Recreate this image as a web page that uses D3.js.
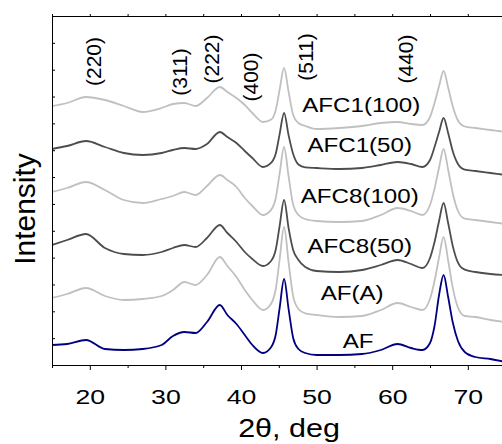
<!DOCTYPE html>
<html>
<head>
<meta charset="utf-8">
<script src="https://cdn.jsdelivr.net/npm/d3@7"></script>
<style>
  html, body { margin: 0; padding: 0; background: #fff; }
  svg { display: block; }
  text { font-family: "Liberation Sans", Arial, sans-serif; fill: #000; }
</style>
</head>
<body>
<svg id="chart" width="502" height="444"></svg>
<script>
// 2θ sampling positions (deg)
const twoTheta = [15, 17, 19.5, 22, 24.5, 27, 29.5, 31, 32.5, 34,
  35.5, 37.2, 38.2, 39.4, 40.5, 41.5, 42.9, 44, 44.6, 45.1,
  45.7, 46.3, 46.9, 47.6, 48.5, 50, 53, 56, 58.5, 60.7,
  62.5, 64, 65, 65.6, 66.2, 66.8, 67.4, 68, 68.7, 69.6,
  71, 73, 75];

// Stacked intensities (a.u., offsets included)
const afc1_100 = [259, 262, 268, 265, 259, 253, 257, 261, 262, 259,
  267, 278, 273, 267, 260, 252, 243, 245.5, 255, 275,
  297, 273, 250, 242, 239, 236, 237, 239, 242, 243,
  241, 240, 248, 262, 279, 294, 277.5, 259, 244.5, 238.5,
  237, 235, 233];
const afc1_50 = [216, 219, 224, 218, 212, 210, 212, 215, 217, 216,
  221, 233, 228, 222, 214, 207, 198, 202.3, 211.5, 230.4,
  252, 229.6, 211, 200.5, 197.7, 197, 196, 197, 200, 203,
  201, 198, 205, 218, 233, 247, 232, 214, 201, 195.3,
  194, 192, 190];
const afc8_100 = [173, 177, 183, 175, 165, 162, 166, 169, 173, 170,
  179, 190, 185, 178, 167, 159, 150, 155.4, 167, 191,
  218, 188.4, 160.3, 150, 146, 144, 143, 144, 150, 157,
  154, 150, 160, 176.4, 197.5, 216, 195.3, 172, 154, 146.4,
  145, 143, 141];
const afc8_50 = [120, 125, 131, 117, 111, 110, 113, 117, 120, 118,
  127, 140, 132, 123, 113, 106, 99, 104.3, 115.5, 138.6,
  165, 136.6, 115, 105, 98, 94, 93, 95, 100, 105,
  101, 97, 107, 123, 144, 162, 142, 119.4, 102.4, 95.3,
  93, 91, 90];
const afA = [67, 71, 77, 69, 65, 66, 69, 75, 83, 80,
  90, 108, 99, 88, 75, 65, 55, 61.6, 76, 105,
  138, 102.4, 68.6, 56, 51.7, 50, 48, 49, 55, 62,
  58, 55, 66, 84, 107.6, 128, 104.5, 77.6, 57.4, 49,
  48, 45, 43];
const af = [20, 21, 25, 16, 15, 16, 20, 29, 33, 32,
  43, 60, 50, 41, 30, 20, 12, 18, 30.5, 56.4,
  86, 55.6, 27, 16, 12, 10, 10, 11, 15, 21,
  17, 15, 22, 39, 70, 90, 68, 43, 24, 13,
  8, 6, 3];

const seriesNames = ["AFC1(100)", "AFC1(50)", "AFC8(100)", "AFC8(50)", "AF(A)", "AF"];
const seriesValues = [afc1_100, afc1_50, afc8_100, afc8_50, afA, af];
const seriesColors = ["#c0c0c0", "#4d4d4d", "#c0c0c0", "#4d4d4d", "#c0c0c0", "#000080"];
// where each sample name sits (2θ, intensity at text baseline)
const nameAngle = [55.9, 55.7, 55.7, 55.7, 54.7, 55.5];
const nameLevel = [253, 213, 162, 112, 65, 17];

// reflection labels
const hklLabels = ["(220)", "(311)", "(222)", "(400)", "(511)", "(440)"];
const hklAngle = [20.5, 31.9, 36.1, 41.2, 48.5, 61.8];
const hklLevel = [303.5, 293, 306, 288, 308, 306];

const xMajorTicks = [20, 30, 40, 50, 60, 70];
const xMinorTicks = [15, 25, 35, 45, 55, 65, 75];
const yTickCount = 13;

const svg = d3.select("#chart");
const plotLeft = 52, plotTop = 16, plotBottom = 365, plotRight = 543.4;

const x = d3.scaleLinear().domain([15, 80]).range([plotLeft, plotRight]);
const y = d3.scaleLinear().domain([0, 349]).range([plotBottom, plotTop]);

svg.append("defs").append("clipPath").attr("id", "plotClip")
  .append("rect").attr("x", plotLeft).attr("y", plotTop)
  .attr("width", plotRight - plotLeft).attr("height", plotBottom - plotTop);

// curves
const line = d3.line()
  .x((d, i) => x(twoTheta[i]))
  .y(d => y(d))
  .curve(d3.curveMonotoneX);

const plot = svg.append("g").attr("clip-path", "url(#plotClip)");
seriesValues.forEach((vals, k) => {
  plot.append("path")
    .datum(vals)
    .attr("fill", "none")
    .attr("stroke", seriesColors[k])
    .attr("stroke-width", 1.8)
    .attr("stroke-linejoin", "round")
    .attr("d", line);
});

// axes
const axisStyle = g => {
  g.select(".domain").attr("stroke", "#000").attr("stroke-width", 1);
  g.selectAll(".tick line").attr("stroke", "#000").attr("stroke-width", 1);
};

const bottomAxis = svg.append("g").attr("transform", `translate(0,${plotBottom})`)
  .call(d3.axisBottom(x).tickValues(xMajorTicks).tickSize(5).tickSizeOuter(0))
  .call(axisStyle);
bottomAxis.selectAll(".tick text")
  .attr("dy", 0)
  .attr("y", 39)
  .attr("transform", "scale(1.3,1)")
  .attr("fill", "#000")
  .style("font-size", "20.5px")
  .style("font-family", "'Liberation Sans', Arial, sans-serif");

svg.append("g").attr("transform", `translate(0,${plotBottom})`)
  .call(d3.axisBottom(x).tickValues(xMinorTicks).tickSize(3).tickSizeOuter(0).tickFormat(""))
  .call(axisStyle);

svg.append("g").attr("transform", `translate(0,${plotTop})`)
  .call(d3.axisTop(x).tickValues(xMajorTicks.concat(xMinorTicks)).tickSize(2).tickSizeOuter(0).tickFormat(""))
  .call(axisStyle);

const yTicks = d3.range(0, yTickCount + 1).map(i => i * 349 / yTickCount);
svg.append("g").attr("transform", `translate(${plotLeft},0)`)
  .call(d3.axisRight(y).tickValues(yTicks).tickSize(3).tickSizeOuter(0).tickFormat(""))
  .call(axisStyle);

// sample names
seriesNames.forEach((name, k) => {
  svg.append("text")
    .attr("transform", `translate(${x(nameAngle[k])},${y(nameLevel[k])}) scale(1.15,1)`)
    .attr("text-anchor", "middle")
    .style("font-size", "21px")
    .text(name);
});

// reflection indices
hklLabels.forEach((lab, k) => {
  svg.append("text")
    .attr("transform", `translate(${x(hklAngle[k]) + 7.5},${y(hklLevel[k])}) rotate(-90)`)
    .attr("text-anchor", "middle")
    .style("font-size", "21px")
    .text(lab);
});

// axis titles
svg.append("text")
  .attr("transform", `translate(289,437) scale(1.22,1)`)
  .attr("text-anchor", "middle")
  .style("font-size", "25px")
  .text("2θ, deg");

svg.append("text")
  .attr("transform", `translate(34.5,209) rotate(-90)`)
  .attr("text-anchor", "middle")
  .style("font-size", "30px")
  .text("Intensity");
</script>
</body>
</html>
